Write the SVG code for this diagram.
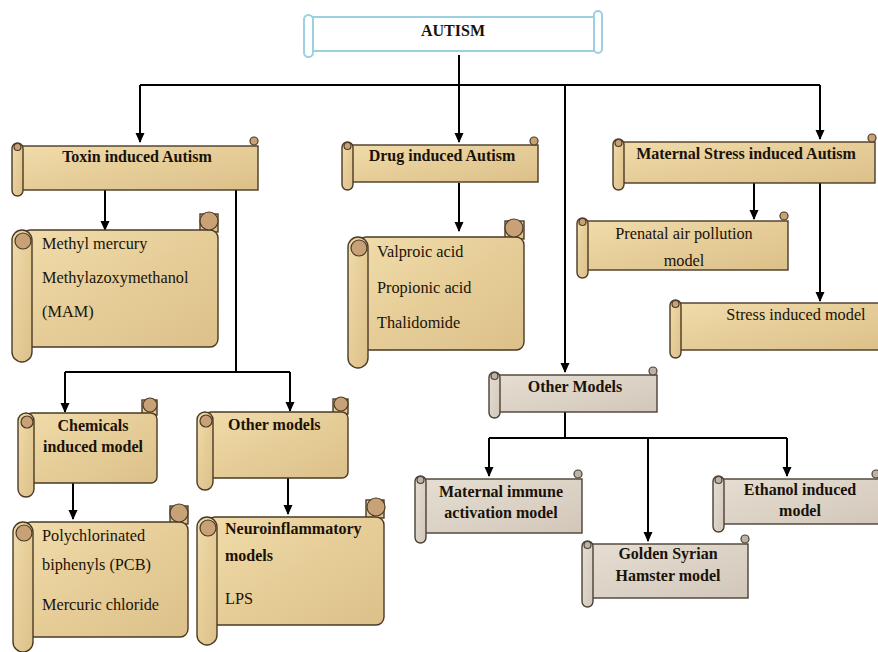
<svg xmlns="http://www.w3.org/2000/svg" width="878" height="652" viewBox="0 0 878 652">
<style>
.body{fill:url(#parch);stroke:#4a3a26;stroke-width:1.4}
.gbody{fill:url(#gray);stroke:#4a4036;stroke-width:1.4}
.curl{fill:#c9a176;stroke:#4a3a26;stroke-width:1.2}
.gcurl{fill:#bdb2a4;stroke:#4a4036;stroke-width:1.2}
.wbody{fill:#ffffff;stroke:#9ccfe0;stroke-width:2}
.t{font-family:"Liberation Serif","Times New Roman",serif;font-size:16.3px;fill:#1a1208}
.b{font-weight:bold;font-size:16px}
.c{text-anchor:middle}
.edge{fill:none;stroke:#000;stroke-width:2}
</style>
<defs>
<linearGradient id="parch" x1="0" y1="0" x2="1" y2="1">
<stop offset="0" stop-color="#f0dcaa"/><stop offset="0.5" stop-color="#e6cd98"/><stop offset="1" stop-color="#dcc08a"/>
</linearGradient>
<linearGradient id="gray" x1="0" y1="0" x2="1" y2="1">
<stop offset="0" stop-color="#e6ded3"/><stop offset="1" stop-color="#d2c7b9"/>
</linearGradient>
<marker id="arr" markerUnits="userSpaceOnUse" markerWidth="10" markerHeight="10" refX="9" refY="5" orient="auto">
<path d="M0,0.5 L10,5 L0,9.5 z" fill="#000"/>
</marker>
</defs>

<g id="connectors">
<path class="edge" d="M459,55 V85 M140,85 H820"/>
<path class="edge" d="M140,85 V142" marker-end="url(#arr)"/>
<path class="edge" d="M459,85 V142" marker-end="url(#arr)"/>
<path class="edge" d="M565,85 V372" marker-end="url(#arr)"/>
<path class="edge" d="M820,85 V139" marker-end="url(#arr)"/>
<path class="edge" d="M105,190 V230" marker-end="url(#arr)"/>
<path class="edge" d="M236,190 V372 M65,372 H290"/>
<path class="edge" d="M65,372 V412" marker-end="url(#arr)"/>
<path class="edge" d="M290,372 V411" marker-end="url(#arr)"/>
<path class="edge" d="M459,183 V231" marker-end="url(#arr)"/>
<path class="edge" d="M754,183 V219" marker-end="url(#arr)"/>
<path class="edge" d="M820,183 V301" marker-end="url(#arr)"/>
<path class="edge" d="M565,412 V438 M489,438 H787"/>
<path class="edge" d="M489,438 V476" marker-end="url(#arr)"/>
<path class="edge" d="M648,438 V541" marker-end="url(#arr)"/>
<path class="edge" d="M787,438 V476" marker-end="url(#arr)"/>
<path class="edge" d="M73,483 V519" marker-end="url(#arr)"/>
<path class="edge" d="M288,478 V514" marker-end="url(#arr)"/>
</g>

<g id="autism">
<rect class="wbody" x="309" y="17" width="289" height="34"/>
<rect class="wbody" x="304" y="15" width="9" height="42" rx="4.5"/>
<rect class="wbody" x="594" y="11" width="8" height="42" rx="4"/>
<text class="t b c" x="453" y="36">AUTISM</text>
</g>

<g id="toxin">
<rect class="body" x="18" y="146" width="240" height="44"/>
<rect class="body" x="12" y="143" width="11" height="53" rx="5.5"/>
<circle class="curl" cx="17.5" cy="147" r="3.5"/>
<circle class="curl" cx="254" cy="141" r="4"/>
<text class="t b c" x="137" y="162">Toxin induced Autism</text>
</g>

<g id="methyl">
<rect class="body" x="200" y="214" width="18" height="18"/>
<rect class="body" x="22" y="230" width="196" height="117" rx="8"/>
<circle class="curl" cx="209" cy="221" r="9"/>
<rect class="body" x="12" y="230" width="20" height="132" rx="10"/>
<circle class="curl" cx="23" cy="241" r="8"/>
<text class="t" x="42" y="249">Methyl mercury</text>
<text class="t" x="42" y="283">Methylazoxymethanol</text>
<text class="t" x="42" y="317">(MAM)</text>
</g>

<g id="drug">
<rect class="body" x="348" y="145" width="190" height="37"/>
<rect class="body" x="342" y="142" width="11" height="48" rx="5.5"/>
<circle class="curl" cx="347.5" cy="146" r="3.5"/>
<circle class="curl" cx="534" cy="141" r="4"/>
<text class="t b c" x="442" y="161">Drug induced Autism</text>
</g>

<g id="valproic">
<rect class="body" x="505" y="221" width="19" height="18"/>
<rect class="body" x="358" y="237" width="166" height="113" rx="8"/>
<circle class="curl" cx="514" cy="228" r="9"/>
<rect class="body" x="348" y="237" width="20" height="131" rx="10"/>
<circle class="curl" cx="359" cy="248" r="8"/>
<text class="t" x="377" y="257">Valproic acid</text>
<text class="t" x="377" y="293">Propionic acid</text>
<text class="t" x="377" y="328">Thalidomide</text>
</g>

<g id="maternal">
<rect class="body" x="619" y="142" width="256" height="41"/>
<rect class="body" x="613" y="139" width="11" height="51" rx="5.5"/>
<circle class="curl" cx="618.5" cy="143" r="3.5"/>
<circle class="curl" cx="872" cy="138" r="4"/>
<text class="t b c" x="746" y="159">Maternal Stress induced Autism</text>
</g>

<g id="prenatal">
<rect class="body" x="583" y="221" width="205" height="49"/>
<rect class="body" x="577" y="218" width="11" height="60" rx="5.5"/>
<circle class="curl" cx="582.5" cy="222" r="3.5"/>
<circle class="curl" cx="784" cy="216" r="4"/>
<text class="t c" x="684" y="239">Prenatal air pollution</text>
<text class="t c" x="684" y="266">model</text>
</g>

<g id="stress">
<rect class="body" x="676" y="303" width="210" height="47"/>
<rect class="body" x="670" y="300" width="11" height="58" rx="5.5"/>
<circle class="curl" cx="675.5" cy="304" r="3.5"/>
<text class="t c" x="796" y="320">Stress induced model</text>
</g>

<g id="chemicals">
<rect class="body" x="142" y="400" width="15" height="15"/>
<rect class="body" x="26" y="413" width="131" height="70" rx="6"/>
<circle class="curl" cx="150" cy="405" r="7"/>
<rect class="body" x="18" y="413" width="16" height="84" rx="8"/>
<circle class="curl" cx="27" cy="422" r="6"/>
<text class="t b c" x="93" y="431">Chemicals</text>
<text class="t b c" x="93" y="452">induced model</text>
</g>

<g id="othermodels">
<rect class="body" x="333" y="399" width="15" height="15"/>
<rect class="body" x="205" y="412" width="143" height="66" rx="6"/>
<circle class="curl" cx="341" cy="404" r="7"/>
<rect class="body" x="197" y="412" width="16" height="78" rx="8"/>
<circle class="curl" cx="206" cy="421" r="6"/>
<text class="t b" x="228" y="430">Other models</text>
</g>

<g id="pcb">
<rect class="body" x="170" y="506" width="18" height="18"/>
<rect class="body" x="23" y="522" width="165" height="115" rx="8"/>
<circle class="curl" cx="179" cy="513" r="9"/>
<rect class="body" x="13" y="522" width="20" height="130" rx="10"/>
<circle class="curl" cx="24" cy="533" r="8"/>
<text class="t" x="42" y="541">Polychlorinated</text>
<text class="t" x="42" y="570">biphenyls (PCB)</text>
<text class="t" x="42" y="610">Mercuric chloride</text>
</g>

<g id="neuro">
<rect class="body" x="366" y="500" width="18" height="18"/>
<rect class="body" x="207" y="517" width="177" height="108" rx="8"/>
<circle class="curl" cx="376" cy="507" r="9"/>
<rect class="body" x="197" y="517" width="20" height="128" rx="10"/>
<circle class="curl" cx="208" cy="528" r="8"/>
<text class="t b" x="225" y="534">Neuroinflammatory</text>
<text class="t b" x="225" y="561">models</text>
<text class="t" x="225" y="604">LPS</text>
</g>

<g id="othermodels2">
<rect class="gbody" x="495" y="375" width="162" height="37"/>
<rect class="gbody" x="489" y="372" width="11" height="46" rx="5.5"/>
<circle class="gcurl" cx="494.5" cy="376" r="3.5"/>
<circle class="gcurl" cx="653" cy="371" r="4"/>
<text class="t b c" x="575" y="392">Other Models</text>
</g>

<g id="mia">
<rect class="gbody" x="421" y="479" width="161" height="54"/>
<rect class="gbody" x="415" y="476" width="11" height="67" rx="5.5"/>
<circle class="gcurl" cx="420.5" cy="480" r="3.5"/>
<circle class="gcurl" cx="578" cy="474" r="4"/>
<text class="t b c" x="501" y="497">Maternal immune</text>
<text class="t b c" x="501" y="518">activation model</text>
</g>

<g id="ethanol">
<rect class="gbody" x="719" y="479" width="165" height="45"/>
<rect class="gbody" x="713" y="476" width="11" height="56" rx="5.5"/>
<circle class="gcurl" cx="718.5" cy="480" r="3.5"/>
<circle class="gcurl" cx="876" cy="474" r="4"/>
<text class="t b c" x="800" y="495">Ethanol induced</text>
<text class="t b c" x="800" y="516">model</text>
</g>

<g id="hamster">
<rect class="gbody" x="588" y="544" width="160" height="54"/>
<rect class="gbody" x="582" y="541" width="11" height="66" rx="5.5"/>
<circle class="gcurl" cx="587.5" cy="545" r="3.5"/>
<circle class="gcurl" cx="745" cy="539" r="4"/>
<text class="t b c" x="668" y="559">Golden Syrian</text>
<text class="t b c" x="668" y="581">Hamster model</text>
</g>
</svg>
